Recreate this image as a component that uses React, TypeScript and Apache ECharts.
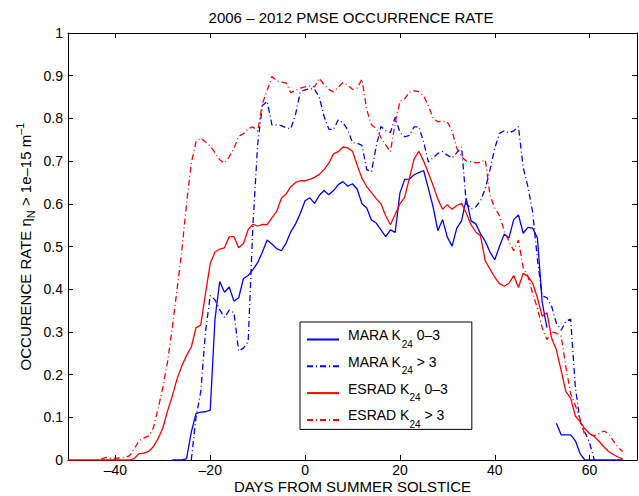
import { useEffect, useRef } from 'react';
import * as echarts from 'echarts';

// day of first value for each series, then one value per day
const MARA_LOW_START = -28;
const MARA_LOW = [
  0, 0, 0, 0.003, 0.065, 0.109, 0.112, 0.113, 0.117, 0.33,
  0.418, 0.393, 0.405, 0.372, 0.38, 0.425, 0.432, 0.446, 0.462, 0.487,
  0.515, 0.506, 0.495, 0.49, 0.508, 0.535, 0.553, 0.578, 0.607, 0.614,
  0.601, 0.62, 0.631, 0.621, 0.631, 0.645, 0.652, 0.641, 0.647, 0.634,
  0.6, 0.59, 0.562, 0.555, 0.539, 0.523, 0.539, 0.533, 0.625, 0.657,
  0.658, 0.668, 0.673, 0.678, 0.636, 0.593, 0.537, 0.563, 0.522, 0.501,
  0.543, 0.56, 0.612, 0.56, 0.553, 0.53, 0.512, 0.487, 0.469, 0.5,
  0.529, 0.52, 0.563, 0.574, 0.531, 0.545, 0.543, 0.52, 0.37, 0.31,
  null, 0.086, 0.059, 0.059, 0.059, 0.045, 0.015, 0, 0, 0,
  0, 0, 0, 0, 0, 0,
];

const MARA_HIGH_START = -24;
const MARA_HIGH = [
  0, 0.1, 0.16, 0.3, 0.385, 0.375, 0.352, 0.334, 0.351, 0.345,
  0.255, 0.262, 0.277, 0.55, 0.74, 0.83, 0.84, 0.785, 0.785, 0.783,
  0.778, 0.776, 0.81, 0.862, 0.867, 0.87, 0.868, 0.85, 0.805, 0.775,
  0.774, 0.797, 0.79, 0.773, 0.743, 0.742, 0.737, 0.68, 0.675, 0.735,
  0.781, 0.771, 0.767, 0.803, 0.767, 0.757, 0.76, 0.78, 0.78, 0.745,
  0.698, 0.708, 0.718, 0.722, 0.714, 0.707, 0.72, 0.733, 0.6, 0.588,
  0.593, 0.607, 0.635, 0.68, 0.73, 0.765, 0.771, 0.766, 0.771, 0.781,
  0.685, 0.64, 0.58, 0.47, 0.385, 0.38, 0.36, 0.32, 0.304, 0.325,
  0.33, 0.17, 0.09, 0.065, 0.04, 0,
];

const ESRAD_LOW_START = -50;
const ESRAD_LOW = [
  0, 0, 0, 0, 0, 0, 0, 0, 0, 0,
  0, 0, 0, 0, 0.004, 0.015, 0.016, 0.02, 0.031, 0.05,
  0.075, 0.115, 0.15, 0.19, 0.22, 0.245, 0.264, 0.31, 0.316, 0.39,
  0.46, 0.487, 0.494, 0.497, 0.523, 0.523, 0.497, 0.507, 0.54, 0.552,
  0.548, 0.552, 0.551, 0.567, 0.582, 0.613, 0.623, 0.64, 0.65, 0.654,
  0.654, 0.657, 0.662, 0.669, 0.68, 0.695, 0.717, 0.722, 0.733, 0.731,
  0.723, 0.69, 0.66, 0.64, 0.626, 0.612, 0.6, 0.572, 0.551, 0.575,
  0.6, 0.615, 0.66, 0.705, 0.723, 0.7, 0.672, 0.643, 0.611, 0.587,
  0.598, 0.587, 0.596, 0.601, 0.578, 0.551, 0.534, 0.525, 0.466, 0.447,
  0.428, 0.413, 0.407, 0.414, 0.432, 0.404, 0.437, 0.43, 0.414, 0.38,
  0.337, 0.345, 0.285, 0.258, 0.21, 0.16, 0.145, 0.103, 0.09, 0.073,
  0.062, 0.055, 0.044, 0.031, 0.02, 0.013, 0.007, 0.002,
];

const ESRAD_HIGH_START = -43;
const ESRAD_HIGH = [
  0.002, 0.006, 0.004, 0.004, 0.005, 0.006, 0.01, 0.027, 0.045, 0.052,
  0.056, 0.075, 0.12, 0.17, 0.23, 0.31, 0.4, 0.49, 0.6, 0.695,
  0.745, 0.754, 0.745, 0.735, 0.72, 0.703, 0.695, 0.71, 0.73, 0.758,
  0.764, 0.776, 0.78, 0.77, 0.835, 0.865, 0.898, 0.888, 0.885, 0.883,
  0.86, 0.866, 0.871, 0.874, 0.876, 0.874, 0.894, 0.879, 0.868, 0.862,
  0.873, 0.884, 0.878, 0.868, 0.871, 0.892, 0.82, 0.785, 0.777, 0.755,
  0.738, 0.722, 0.79, 0.84, 0.846, 0.862, 0.865, 0.862, 0.853, 0.83,
  0.8, 0.792, 0.794, 0.792, 0.77, 0.73, 0.71, 0.7, 0.699, 0.696,
  0.697, 0.703, 0.62, 0.59, 0.572, 0.537, 0.512, 0.49, 0.515, 0.45,
  0.43, 0.39, 0.355, 0.31, 0.282, 0.3, 0.297, 0.29, 0.218, 0.156,
  0.128, 0.096, 0.058, 0.06, 0.057, 0.062, 0.068, 0.062, 0.045, 0.03,
  0.02,
];

const X_TICKS = [-40, -20, 0, 20, 40, 60];

const SERIES_NAMES = ['MARA K24 0–3', 'MARA K24 > 3', 'ESRAD K24 0–3', 'ESRAD K24 > 3'];
const LEGEND_LABELS: Record<string, string> = {
  'MARA K24 0–3': '{b|MARA K}{sub|24}{b| 0–3}',
  'MARA K24 > 3': '{b|MARA K}{sub|24}{b| > 3}',
  'ESRAD K24 0–3': '{b|ESRAD K}{sub|24}{b| 0–3}',
  'ESRAD K24 > 3': '{b|ESRAD K}{sub|24}{b| > 3}',
};

const FONT = '"Liberation Sans", Arial, Helvetica, sans-serif';
const DASH_DOT = [6, 3, 1, 3];

function toPairs(start: number, values: (number | null)[]) {
  return values.map((v, i) => [start + i, v]);
}

function makeSeries(name: string, color: string, dashed: boolean, start: number, values: (number | null)[]) {
  return {
    name,
    type: 'line' as const,
    data: toPairs(start, values),
    showSymbol: false,
    symbol: 'none',
    connectNulls: false,
    itemStyle: { color },
    lineStyle: { color, width: 1.3, type: dashed ? DASH_DOT : 'solid' },
  };
}

export default function App() {
  const chartRef = useRef<HTMLDivElement>(null);

  useEffect(() => {
    if (!chartRef.current) return;
    const chart = echarts.init(chartRef.current, undefined, { renderer: 'svg' });

    const axisLine = { show: true, onZero: false, lineStyle: { color: '#000', width: 1 } };
    const tick = { show: true, inside: true, length: 5, lineStyle: { color: '#000' } };

    const option: echarts.EChartsOption = {
      animation: false,
      backgroundColor: '#fff',
      textStyle: { fontFamily: FONT, color: '#000' },
      title: {
        text: '2006 – 2012 PMSE OCCURRENCE RATE',
        left: 346,
        top: 5,
        textAlign: 'center',
        textStyle: { fontSize: 15, fontWeight: 'normal', color: '#000', fontFamily: FONT },
      },
      grid: { left: 68, right: 2, top: 33, bottom: 36, containLabel: false, outerBoundsMode: 'none' } as any,
      legend: {
        orient: 'vertical',
        left: 300,
        top: 322,
        data: SERIES_NAMES,
        backgroundColor: '#fff',
        borderColor: '#000',
        borderWidth: 1,
        borderRadius: 0,
        padding: [6, 24, 0, 6],
        itemWidth: 32,
        itemHeight: 10,
        itemGap: 5.8,
        itemStyle: { opacity: 0 },
        formatter: (name: string) => LEGEND_LABELS[name] ?? name,
        textStyle: {
          fontSize: 14,
          color: '#000',
          fontFamily: FONT,
          padding: [0, 0, 7, 4],
          rich: {
            b: { fontSize: 14, lineHeight: 16, verticalAlign: 'top', fontFamily: FONT, color: '#000' },
            sub: {
              fontSize: 10,
              lineHeight: 10,
              padding: [11, 0, 0, 0],
              verticalAlign: 'top',
              fontFamily: FONT,
              color: '#000',
            },
          },
        },
      },
      xAxis: [
        {
          type: 'value',
          min: -50,
          max: 70,
          position: 'bottom',
          axisLine,
          splitLine: { show: false },
          axisTick: { ...tick, customValues: X_TICKS },
          axisLabel: {
            show: true,
            customValues: X_TICKS,
            fontSize: 14,
            color: '#000',
            margin: 3,
            fontFamily: FONT,
            formatter: (v: number) => (v < 0 ? '–' + Math.abs(v) : String(v)),
          },
          name: 'DAYS FROM SUMMER SOLSTICE',
          nameLocation: 'middle',
          nameGap: 19,
          nameMoveOverlap: false,
          nameTextStyle: { fontSize: 15, color: '#000', fontFamily: FONT },
        } as any,
        {
          type: 'value',
          min: -50,
          max: 70,
          position: 'top',
          axisLine,
          splitLine: { show: false },
          axisTick: { ...tick, customValues: X_TICKS },
          axisLabel: { show: false },
        },
      ],
      yAxis: [
        {
          type: 'value',
          min: 0,
          max: 1,
          interval: 0.1,
          position: 'left',
          axisLine,
          splitLine: { show: false },
          axisTick: tick,
          axisLabel: {
            fontSize: 14,
            color: '#000',
            margin: 5,
            fontFamily: FONT,
            formatter: (v: number) => String(Number(v.toFixed(1))),
          },
          name: 'OCCURENCE RATE η{sub|N} > 1e–15 m{sup|–1}',
          nameLocation: 'middle',
          nameGap: 32,
          nameMoveOverlap: false,
          nameTextStyle: {
            fontSize: 15,
            color: '#000',
            fontFamily: FONT,
            lineHeight: 22,
            rich: {
              sub: { fontSize: 11, lineHeight: 11, verticalAlign: 'bottom', fontFamily: FONT, color: '#000' },
              sup: { fontSize: 11, lineHeight: 11, verticalAlign: 'top', fontFamily: FONT, color: '#000' },
            },
          },
        } as any,
        {
          type: 'value',
          min: 0,
          max: 1,
          interval: 0.1,
          position: 'right',
          axisLine,
          splitLine: { show: false },
          axisTick: tick,
          axisLabel: { show: false },
        },
      ],
      series: [
        makeSeries(SERIES_NAMES[0], '#0000ff', false, MARA_LOW_START, MARA_LOW),
        makeSeries(SERIES_NAMES[1], '#0000ff', true, MARA_HIGH_START, MARA_HIGH),
        makeSeries(SERIES_NAMES[2], '#ff0000', false, ESRAD_LOW_START, ESRAD_LOW),
        makeSeries(SERIES_NAMES[3], '#ff0000', true, ESRAD_HIGH_START, ESRAD_HIGH),
      ],
    };

    chart.setOption(option);

    return () => {
      chart.dispose();
    };
  }, []);

  return (
    <div
      ref={chartRef}
      style={{ position: 'fixed', left: 0, top: 0, width: 639, height: 496 }}
    />
  );
}
